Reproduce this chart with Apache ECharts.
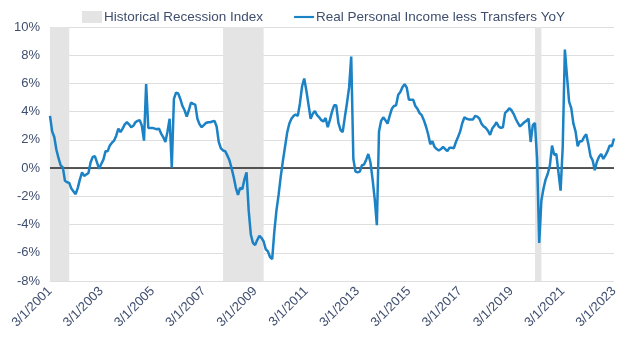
<!DOCTYPE html>
<html>
<head>
<meta charset="utf-8">
<script src="https://cdn.jsdelivr.net/npm/echarts@6/dist/echarts.min.js"></script>
<style>
html,body{margin:0;padding:0;background:#fff;}
#chart{width:624px;height:343px;}
</style>
</head>
<body>
<div id="chart"></div>
<script>
// Monthly YoY values, Mar 2001 .. Mar 2023 (%)
const incomeYoY = [
 3.7,2.6,2.2,1.3,0.7,0.2,0.05,-0.9,-1.0,-1.05,-1.45,-1.65,
 -1.85,-1.4,-0.8,-0.3,-0.55,-0.45,-0.35,0.4,0.8,0.85,0.4,-0.05,
 0.3,0.6,1.2,1.2,1.6,1.8,1.95,2.3,2.8,2.55,2.8,3.1,
 3.25,3.1,2.9,3.0,3.25,3.35,3.4,3.0,1.95,5.95,2.85,2.85,
 2.85,2.8,2.75,2.8,2.45,2.2,1.85,2.6,3.5,0.05,4.9,5.35,
 5.3,4.9,4.4,4.1,3.65,4.1,4.65,4.55,4.5,3.5,3.1,2.9,
 3.05,3.2,3.25,3.25,3.3,3.35,2.95,1.85,1.4,1.25,1.2,0.9,
 0.55,0.0,-0.65,-1.4,-1.9,-1.4,-1.5,-0.8,-0.3,-3.0,-4.7,-5.3,
 -5.45,-5.1,-4.8,-4.95,-5.2,-5.75,-5.9,-6.3,-6.45,-4.5,-3.0,-1.9,
 -0.6,0.5,1.5,2.5,3.15,3.5,3.7,3.8,3.7,4.6,5.8,6.35,
 5.5,4.5,3.5,3.85,4.05,3.75,3.6,3.4,3.3,3.55,2.9,3.4,
 4.0,4.45,4.45,3.2,2.7,2.55,3.6,4.6,5.7,7.9,0.65,-0.25,
 -0.3,-0.25,0.2,0.25,0.6,1.0,0.4,-0.8,-2.2,-4.05,2.6,3.35,
 3.6,3.4,3.15,3.7,4.2,4.4,4.45,5.2,5.4,5.75,5.95,5.7,
 4.85,4.85,4.85,4.4,4.2,3.9,3.75,3.4,2.95,2.4,1.7,1.9,
 1.5,1.35,1.25,1.35,1.5,1.35,1.2,1.45,1.45,1.4,1.85,2.2,
 2.6,3.2,3.6,3.5,3.45,3.45,3.45,3.7,3.65,3.5,3.15,2.95,
 2.85,2.65,2.35,2.8,3.0,3.25,2.95,2.85,2.9,3.9,4.05,4.25,
 4.1,3.85,3.5,3.2,2.95,3.1,3.25,3.35,3.5,1.85,3.05,3.2,
 0.65,-5.3,-2.3,-1.45,-0.8,-0.4,0.2,1.6,0.95,1.0,-0.3,-1.6,
 1.5,8.4,6.5,4.7,4.25,3.15,2.6,1.55,1.9,1.9,2.2,2.4,
 1.7,0.85,0.55,-0.15,0.45,0.8,1.0,0.65,0.9,1.2,1.6,1.55,
 2.1
];
const startYear = 2001, startMonth = 3;
// recession months (first and last month, inclusive)
const recessionPeriods = [['2001-03','2001-11'],['2007-12','2009-06'],['2020-02','2020-04']];
const yTop = 10, yBottom = -8;

const categories = [];
const keys = [];
for (let i = 0; i < incomeYoY.length; i++) {
  const m0 = startMonth - 1 + i;
  const y = startYear + Math.floor(m0 / 12);
  const m = (m0 % 12) + 1;
  categories.push(m + '/1/' + y);
  keys.push(y + '-' + String(m).padStart(2, '0'));
}
// shade each recession through the end of its last month
const recAreas = recessionPeriods.map(p => {
  const a = keys.indexOf(p[0]);
  const b = Math.min(keys.indexOf(p[1]) + 1, keys.length - 1);
  return [{ xAxis: categories[a] }, { xAxis: categories[b] }];
});

const txt = '#3F4E6E';
const font = 'Liberation Sans, Arial, sans-serif';
const recColor = '#E4E4E4';
const lineColor = '#1B82C5';
const chart = echarts.init(document.getElementById('chart'));
chart.setOption({
  animation: false,
  grid: { left: 50, right: 10, top: 27, bottom: 62 },
  legend: {
    top: 5, left: 77, itemGap: 31, itemWidth: 20, itemHeight: 12,
    textStyle: { color: txt, fontSize: 13.5, fontFamily: font, padding: [0, 0, 0, -3] },
    data: [
      { name: 'Historical Recession Index', icon: 'rect', itemStyle: { color: recColor } },
      { name: 'Real Personal Income less Transfers YoY',
        icon: 'path://M0,0 L24,0 L24,2.6 L0,2.6 Z', itemStyle: { color: lineColor } }
    ]
  },
  xAxis: {
    type: 'category', data: categories, boundaryGap: false,
    axisLine: { show: false }, axisTick: { show: false }, splitLine: { show: false },
    axisLabel: {
      interval: 23, rotate: 45, margin: 8, color: txt, fontSize: 13, fontFamily: font
    }
  },
  yAxis: {
    type: 'value', min: yBottom, max: yTop, interval: 2,
    axisLine: { show: false }, axisTick: { show: false },
    splitLine: { lineStyle: { color: '#DEDEDE', width: 1 } },
    axisLabel: { formatter: '{value}%', color: txt, fontSize: 13, margin: 10, fontFamily: font }
  },
  series: [
    { name: 'Historical Recession Index', type: 'bar', data: [], itemStyle: { color: recColor } },
    { name: 'Real Personal Income less Transfers YoY', type: 'line', data: incomeYoY,
      symbol: 'none', showSymbol: false,
      lineStyle: { color: lineColor, width: 2.5 }, itemStyle: { color: lineColor },
      z: 5,
      markArea: { silent: true, itemStyle: { color: recColor }, data: recAreas, z: 1 },
      markLine: { silent: true, symbol: 'none', label: { show: false },
        lineStyle: { color: '#222', width: 1.5, type: 'solid' }, data: [{ yAxis: 0 }] } }
  ]
});
</script>
</body>
</html>
